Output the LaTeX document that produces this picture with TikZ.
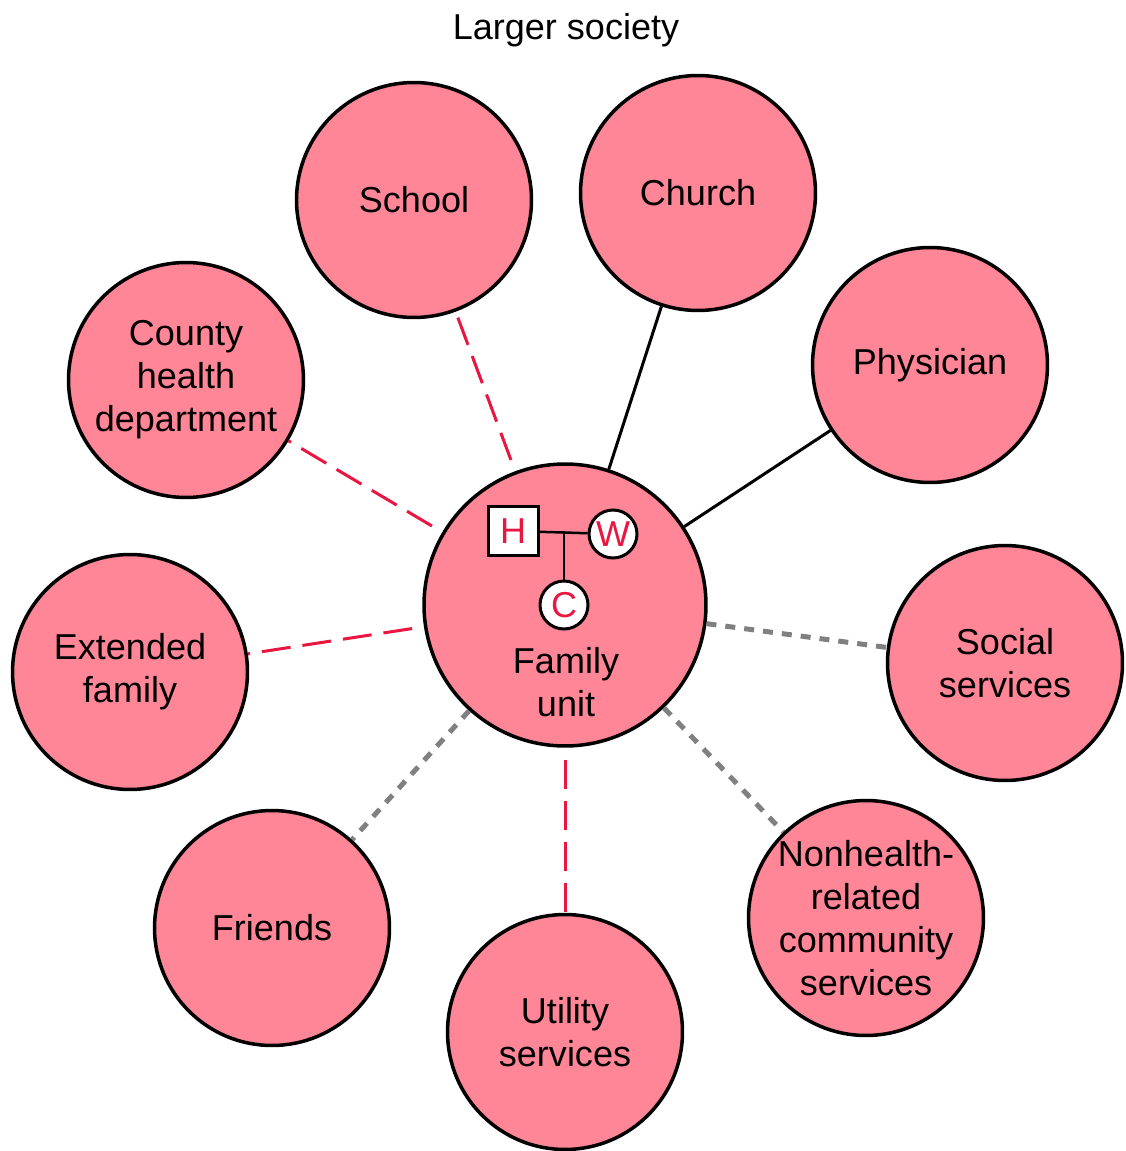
\documentclass[tikz,border=0pt]{standalone}
\usepackage{fontspec}
\setmainfont{Liberation Sans}
\definecolor{pinkfill}{RGB}{255,134,150}
\definecolor{linkred}{RGB}{232,22,64}
\definecolor{dotgray}{RGB}{128,128,128}
\begin{document}
\begin{tikzpicture}[
        x=0.02cm, y=-0.02cm,
        agency/.style={circle, draw=black, line width=0.07cm, fill=pinkfill, minimum size=4.7cm, align=center, inner sep=0pt, font=\fontsize{20.5}{24.5}\selectfont},
        family/.style={circle, draw=black, line width=0.07cm, fill=pinkfill, minimum size=5.64cm, inner sep=0pt},
        member/.style={draw=black, line width=0.06cm, fill=white, text=linkred, inner sep=0pt, font=\fontsize{20.5}{24.5}\selectfont},
        strong/.style={draw=black, line width=0.06cm},
        stressful/.style={draw=linkred, line width=0.06cm, dash pattern=on 0.58cm off 0.24cm, dash phase=0.58cm},
        weak/.style={draw=dotgray, line width=0.1cm, dash pattern=on 0.2cm off 0.18cm}
    ]
        \useasboundingbox (0,0) rectangle (1125,1151);
        
        % Title
        \node[font=\fontsize{20.5}{24.5}\selectfont] (title) at (566,30) {Larger society};
        
        % Family unit
        \node[family] (fam) at (565,605) {};
        \node[member, rectangle, minimum size=1cm] (hus) at (513,531) {H};
        \node[member, circle, minimum size=0.96cm] (wife) at (613,534) {W};
        \node[member, circle, minimum size=0.96cm] (child) at (564,605) {C};
        \coordinate (mid) at (child |- hus);
        \draw[line width=0.05cm] (hus) -- (wife);
        \draw[line width=0.05cm] (mid) -- (child);
        \node[align=center, font=\fontsize{20.5}{24.5}\selectfont] (famlabel) at (566,682) {Family\\unit};
        
        % Surrounding systems
        \node[agency] (school) at (414,200) {School};
        \node[agency] (church) at (698,193) {Church};
        \node[agency] (phys) at (930,365) {Physician};
        \node[agency] (county) at (186,380) {County\\health\\department};
        \node[agency] (extfam) at (130,672) {Extended\\family};
        \node[agency] (social) at (1005,663) {Social\\services};
        \node[agency] (nonhealth) at (866,918) {Nonhealth-\\related\\community\\services};
        \node[agency] (utility) at (565,1032) {Utility\\services};
        \node[agency] (friends) at (272,928) {Friends};
        
        % Links
        \draw[stressful] (fam) -- (school);
        \draw[strong] (fam) -- (church);
        \draw[strong] (fam) -- (phys);
        \draw[stressful] (fam) -- (county);
        \draw[stressful] (fam) -- (extfam);
        \draw[weak] (fam) -- (social);
        \draw[weak] (fam) -- (nonhealth);
        \draw[stressful] (fam) -- (utility);
        \draw[weak] (fam) -- (friends);
    \end{tikzpicture}
\end{document}
